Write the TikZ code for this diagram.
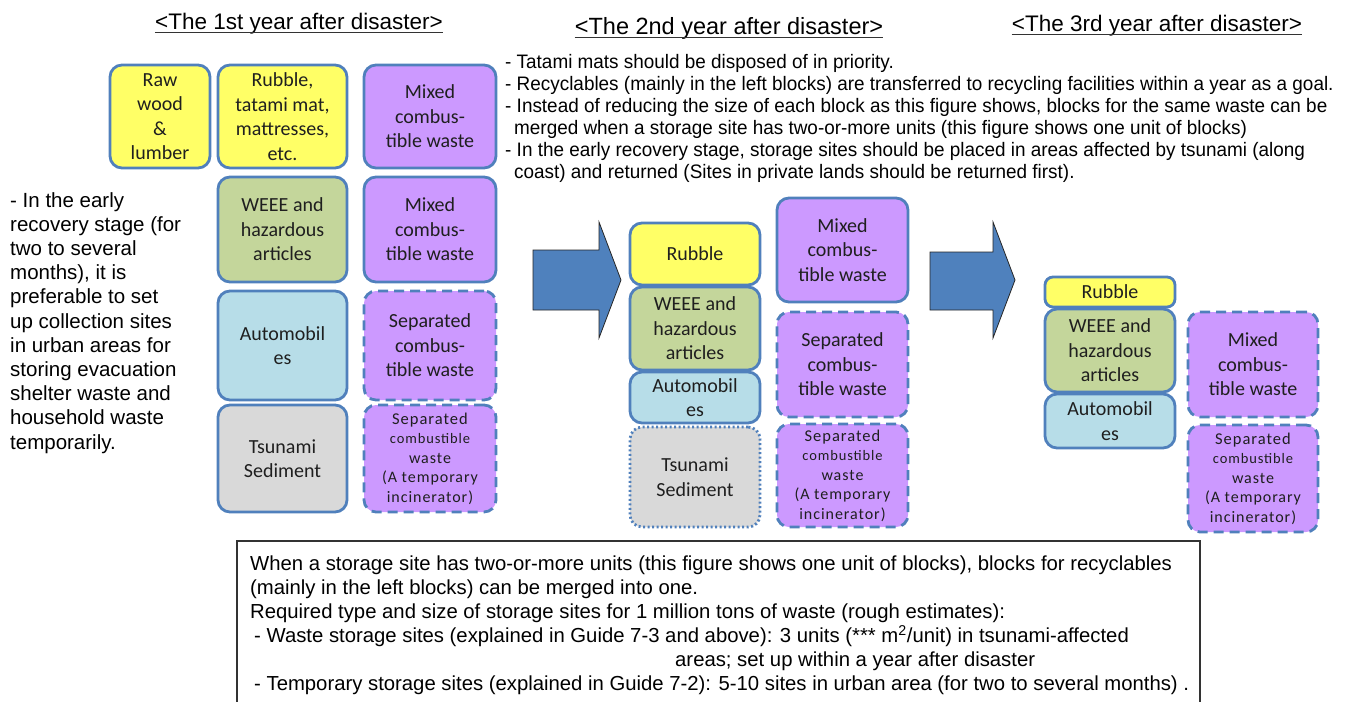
\documentclass[tikz,border=0pt]{standalone}
\usepackage{fontspec}
\setmainfont{Liberation Sans}
\newfontfamily\boxfont{Carlito}
\newfontfamily\boxfontsp[LetterSpace=6]{Carlito}
\newfontfamily\narrowfont[FakeStretch=0.97]{Liberation Sans}

\definecolor{edgeblue}{RGB}{80,128,188}
\definecolor{fyellow}{RGB}{255,255,102}
\definecolor{fpurple}{RGB}{204,153,255}
\definecolor{fgreen}{RGB}{196,214,155}
\definecolor{fblue}{RGB}{183,221,232}
\definecolor{fgray}{RGB}{217,217,217}
\definecolor{arrowblue}{RGB}{79,129,189}

% five-line label of the incinerator blocks
\newcommand{\incinlines}{{\fontsize{16.5}{19.5}\selectfont Separated}\\{\fontsize{14.5}{19.5}\selectfont combustible}\\waste\\(A temporary\\incinerator)}

\begin{document}
\begin{tikzpicture}[x=1pt,y=-1pt,
  block/.style={draw=edgeblue, line width=2.8pt, rounded corners=12pt, align=center,
    inner sep=0pt, font=\boxfont\fontsize{20}{24.5}\selectfont, text=black!88},
  dashblock/.style={block, dash pattern=on 10pt off 6pt},
  dotblock/.style={block, dash pattern=on 2pt off 2.5pt},
  incin/.style={dashblock, fill=fpurple, font=\boxfontsp\fontsize{16}{19.5}\selectfont},
  sz/.style 2 args={minimum width=#1pt, minimum height=#2pt},
  yearhead/.style={anchor=base, inner sep=0pt},
  bigarrow/.style={fill=arrowblue, draw=black!85, line width=0.8pt, line join=miter},
  note/.style={anchor=north west, align=left, inner sep=0pt}
]
\useasboundingbox (0,0) rectangle (1348,701);

% ---- headings ----
\node[yearhead, font=\fontsize{22.5}{26}\selectfont] (h1) at (299,30) {<The 1st year after disaster>};
\node[yearhead, font=\fontsize{23.5}{27}\selectfont] (h2) at (729,35) {<The 2nd year after disaster>};
\node[yearhead, font=\fontsize{22.5}{26}\selectfont] (h3) at (1157,32) {<The 3rd year after disaster>};
\foreach \h in {h1,h2,h3}
  \draw[line width=1.4pt, black!80] ([yshift=-2.5pt]\h.base west) -- ([yshift=-2.5pt]\h.base east);

% ---- year 1 ----
\node[block, fill=fyellow, sz={100}{103}] (raw) at (160,116.5) {Raw\\wood\\\&\\lumber};
\node[block, fill=fyellow, sz={129}{103}] (rub1) at (282.5,116.5) {Rubble,\\tatami mat,\\mattresses,\\etc.};
\node[block, fill=fpurple, sz={132}{103}] (mix1a) at (430,116.5) {Mixed\\combus-\\tible waste};
\node[block, fill=fgreen, sz={129}{105}] (weee1) at (282.5,229.5) {WEEE and\\hazardous\\articles};
\node[block, fill=fpurple, sz={132}{105}] (mix1b) at (430,229.5) {Mixed\\combus-\\tible waste};
\node[block, fill=fblue, sz={129}{109}] (auto1) at (282.5,345.5) {Automobil\\es};
\node[dashblock, fill=fpurple, sz={132}{109}] (sep1) at (430,345.5) {Separated\\combus-\\tible waste};
\node[block, fill=fgray, sz={129}{107}] (tsu1) at (282.5,458.5) {Tsunami\\Sediment};
\node[incin, sz={132}{107}] (inc1) at (430,458.5) {\incinlines};

% ---- year 2 ----
\node[block, fill=fyellow, sz={130}{62}] (rub2) at (695,254) {Rubble};
\node[block, fill=fgreen, sz={130}{83}] (weee2) at (695,328.5) {WEEE and\\hazardous\\articles};
\node[block, fill=fblue, sz={130}{51}] (auto2) at (695,397.5) {Automobil\\es};
\node[dotblock, fill=fgray, sz={130}{100}] (tsu2) at (695,477) {Tsunami\\Sediment};
\node[block, fill=fpurple, sz={131}{104}] (mix2) at (842.5,250) {Mixed\\combus-\\tible waste};
\node[dashblock, fill=fpurple, sz={131}{105}] (sep2) at (842.5,364.5) {Separated\\combus-\\tible waste};
\node[incin, sz={131}{103}] (inc2) at (842.5,475.5) {\incinlines};

% ---- year 3 ----
\node[block, fill=fyellow, sz={130}{30}, rounded corners=8pt] (rub3) at (1110,292) {Rubble};
\node[block, fill=fgreen, sz={130}{83}] (weee3) at (1110,350.5) {WEEE and\\hazardous\\articles};
\node[block, fill=fblue, sz={130}{54}] (auto3) at (1110,421) {Automobil\\es};
\node[dashblock, fill=fpurple, sz={130}{105}] (mix3) at (1253,364.5) {Mixed\\combus-\\tible waste};
\node[incin, sz={130}{107}] (inc3) at (1253,478.5) {\incinlines};

% ---- block arrows between the years ----
\draw[bigarrow] (533,250) -- (599,250) -- (599,222) -- (621,280) -- (599,338) -- (599,310) -- (533,310) -- cycle;
\draw[bigarrow] (930,252) -- (993,252) -- (993,222) -- (1015,280) -- (993,338) -- (993,310) -- (930,310) -- cycle;

% ---- side note, year 1 ----
\node[note, font=\fontsize{20.5}{24.2}\selectfont] (early) at (10,192) {- In the early\\recovery stage (for\\two to several\\months), it is\\preferable to set\\up collection sites\\in urban areas  for\\storing evacuation\\shelter waste and\\household waste\\temporarily.};

% ---- notes, year 2 ----
\node[note, font=\narrowfont\fontsize{19.5}{22}\selectfont] (notes) at (505,54) {- Tatami mats should be disposed of in priority.\\- Recyclables (mainly in the left blocks) are transferred to recycling facilities within a year as a goal.\\- Instead of reducing the size of each block as this figure shows, blocks for the same waste can be\\\hspace*{9pt}merged when a storage site has two-or-more units (this figure shows one unit of blocks)\\- In the early recovery stage, storage sites should be placed in areas affected by tsunami (along\\\hspace*{9pt}coast) and returned (Sites in private lands should be returned first).};

% ---- summary box ----
\draw[line width=1.2pt, black!80] (237,706) -- (237,541) -- (1200,541) -- (1200,706);
\node[note, font=\fontsize{20.3}{24}\selectfont] (summary) at (250,556) {When a storage site has two-or-more units (this figure shows one unit of blocks), blocks for recyclables\\(mainly in the left blocks) can be merged into one.\\Required type and size of storage sites for 1 million tons of waste (rough estimates):\\\hspace*{4pt}- Waste storage sites (explained in Guide 7-3 and above): 3 units (*** m\textsuperscript{2}/unit) in tsunami-affected\\\hspace*{425pt}areas; set up within a year after disaster\\\hspace*{4pt}- Temporary storage sites (explained in Guide 7-2): 5-10 sites in urban area (for two to several months) .};
\end{tikzpicture}
\end{document}
